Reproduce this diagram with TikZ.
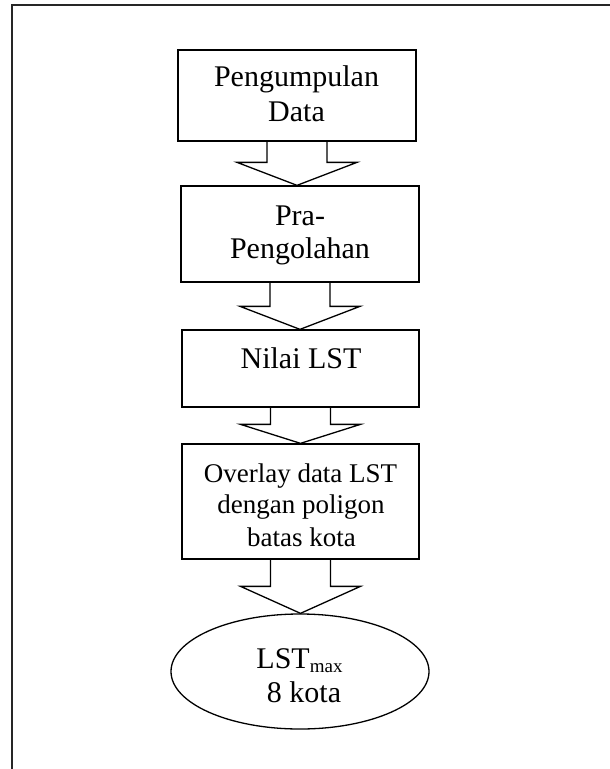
\documentclass[tikz,border=0pt]{standalone}
\usepackage{fontspec}
\setmainfont{Liberation Serif}
\usetikzlibrary{shapes.geometric,calc}
\tikzset{
  stepbox/.style={draw=black, line width=1.3pt, inner sep=0pt},
  endell/.style={draw=black, line width=1.3pt, ellipse, inner sep=0pt, minimum width=258pt, minimum height=115pt},
  txt/.style={anchor=base, inner sep=0pt, font=\fontsize{30}{34}\selectfont},
  txtsm/.style={anchor=base, inner sep=0pt, font=\fontsize{27}{31}\selectfont},
  blockarrow/.style={draw=black, line width=1.3pt, line join=miter},
  frameline/.style={draw=black!85, line width=2pt}
}
% block arrow from source south to target north; #3 = head height
\newcommand{\blkarrow}[3]{%
  \draw[blockarrow] let \p1=(#1.south), \p2=(#2.north) in
    (\x1-30pt,\y1) -- (\x1-30pt,\y2+#3pt) -- (\x1-60pt,\y2+#3pt) -- (\x1,\y2)
    -- (\x1+60pt,\y2+#3pt) -- (\x1+30pt,\y2+#3pt) -- (\x1+30pt,\y1);}
\begin{document}
\begin{tikzpicture}[x=1pt,y=-1pt]
\useasboundingbox (0,0) rectangle (610,769);
\fill[white] (0,0) rectangle (610,769);
\draw[frameline] (12,769) -- (12,5) -- (610,5);

\node[stepbox, minimum width=238pt, minimum height=91pt] (b1) at (297,95.5) {};
\node[stepbox, minimum width=238pt, minimum height=96pt] (b2) at (300,234) {};
\node[stepbox, minimum width=237pt, minimum height=77pt] (b3) at (300.5,368.5) {};
\node[stepbox, minimum width=237pt, minimum height=115pt] (b4) at (300.5,501.5) {};
\node[endell] (e5) at (300,671.5) {};

\node[txt] (t1a) at (296.5,86.7) {Pengumpulan};
\node[txt] (t1b) at (296.5,121.7) {Data};
\node[txt] (t2a) at (300,225) {Pra-};
\node[txt] (t2b) at (300,258.3) {Pengolahan};
\node[txt] (t3a) at (301,368) {Nilai LST};
\node[txtsm] (t4a) at (300.5,482) {Overlay data LST};
\node[txtsm] (t4b) at (301,513) {dengan poligon};
\node[txtsm] (t4c) at (301.5,546) {batas kota};
\node[txt] (t5a) at (299.5,668) {LST{\fontsize{19}{19}\selectfont\raisebox{-4pt}{max}}};
\node[txt] (t5b) at (304,702) {8 kota};

\blkarrow{b1}{b2}{23}
\blkarrow{b2}{b3}{23}
\blkarrow{b3}{b4}{19}
\blkarrow{b4}{e5}{27}
\end{tikzpicture}
\end{document}
